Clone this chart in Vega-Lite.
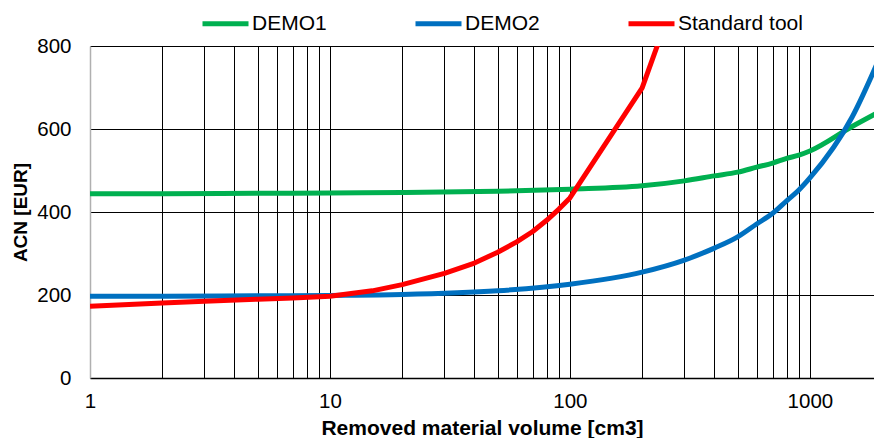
{
  "$schema": "https://vega.github.io/schema/vega-lite/v6.json",
  "width": 784,
  "height": 332,
  "autosize": {"type": "none"},
  "padding": {"left": 90, "top": 46, "right": 0, "bottom": 60},
  "background": "white",
  "config": {"view": {"stroke": null}, "font": "Liberation Sans"},
  "data": {
    "values": [
      {"series": "DEMO1", "volume": 1, "acn": 444},
      {"series": "DEMO1", "volume": 2, "acn": 444},
      {"series": "DEMO1", "volume": 5, "acn": 445},
      {"series": "DEMO1", "volume": 10, "acn": 446},
      {"series": "DEMO1", "volume": 20, "acn": 447},
      {"series": "DEMO1", "volume": 50, "acn": 450},
      {"series": "DEMO1", "volume": 100, "acn": 455},
      {"series": "DEMO1", "volume": 200, "acn": 463},
      {"series": "DEMO1", "volume": 300, "acn": 475},
      {"series": "DEMO1", "volume": 400, "acn": 487},
      {"series": "DEMO1", "volume": 500, "acn": 496},
      {"series": "DEMO1", "volume": 600, "acn": 508},
      {"series": "DEMO1", "volume": 700, "acn": 518},
      {"series": "DEMO1", "volume": 800, "acn": 529},
      {"series": "DEMO1", "volume": 900, "acn": 537},
      {"series": "DEMO1", "volume": 1000, "acn": 547},
      {"series": "DEMO1", "volume": 1500, "acn": 606},
      {"series": "DEMO1", "volume": 2000, "acn": 645},
      {"series": "DEMO2", "volume": 1, "acn": 197},
      {"series": "DEMO2", "volume": 2, "acn": 197},
      {"series": "DEMO2", "volume": 5, "acn": 198},
      {"series": "DEMO2", "volume": 10, "acn": 199},
      {"series": "DEMO2", "volume": 20, "acn": 201},
      {"series": "DEMO2", "volume": 50, "acn": 210},
      {"series": "DEMO2", "volume": 100, "acn": 226},
      {"series": "DEMO2", "volume": 200, "acn": 255},
      {"series": "DEMO2", "volume": 300, "acn": 284},
      {"series": "DEMO2", "volume": 400, "acn": 313},
      {"series": "DEMO2", "volume": 500, "acn": 340},
      {"series": "DEMO2", "volume": 600, "acn": 371},
      {"series": "DEMO2", "volume": 700, "acn": 397},
      {"series": "DEMO2", "volume": 800, "acn": 427},
      {"series": "DEMO2", "volume": 900, "acn": 453},
      {"series": "DEMO2", "volume": 1000, "acn": 482},
      {"series": "DEMO2", "volume": 1500, "acn": 629},
      {"series": "DEMO2", "volume": 2000, "acn": 786},
      {"series": "Standard tool", "volume": 1, "acn": 173},
      {"series": "Standard tool", "volume": 2, "acn": 181},
      {"series": "Standard tool", "volume": 3, "acn": 185},
      {"series": "Standard tool", "volume": 5, "acn": 190},
      {"series": "Standard tool", "volume": 7, "acn": 193},
      {"series": "Standard tool", "volume": 10, "acn": 197},
      {"series": "Standard tool", "volume": 15, "acn": 210},
      {"series": "Standard tool", "volume": 20, "acn": 225},
      {"series": "Standard tool", "volume": 30, "acn": 252},
      {"series": "Standard tool", "volume": 40, "acn": 277},
      {"series": "Standard tool", "volume": 50, "acn": 303},
      {"series": "Standard tool", "volume": 60, "acn": 328},
      {"series": "Standard tool", "volume": 70, "acn": 353},
      {"series": "Standard tool", "volume": 80, "acn": 380},
      {"series": "Standard tool", "volume": 90, "acn": 407},
      {"series": "Standard tool", "volume": 100, "acn": 434},
      {"series": "Standard tool", "volume": 200, "acn": 699},
      {"series": "Standard tool", "volume": 300, "acn": 983}
    ]
  },
  "encoding": {
    "x": {
      "field": "volume",
      "type": "quantitative",
      "scale": {"type": "log", "domain": [1, 1850], "nice": false},
      "axis": {
        "values": [1,2,3,4,5,6,7,8,9,10,20,30,40,50,60,70,80,90,100,200,300,400,500,600,700,800,900,1000],
        "format": "d",
        "labelExpr": "datum.value == 1 || datum.value == 10 || datum.value == 100 || datum.value == 1000 ? datum.label : ''",
        "grid": true,
        "gridColor": {"condition": {"test": "datum.value == 1", "value": "#b0b0b0"}, "value": "black"},
        "gridWidth": 1,
        "gridOpacity": 1,
        "ticks": false,
        "domainColor": "black",
        "domainWidth": 1.5,
        "labelFont": "Liberation Sans",
        "labelFontSize": 20.5,
        "labelColor": "black",
        "labelPadding": 13,
        "labelFlush": false,
        "labelOverlap": false,
        "title": "Removed material volume [cm3]",
        "titleFont": "Liberation Sans",
        "titleFontSize": 21,
        "titleFontWeight": "bold",
        "titleColor": "black",
        "titlePadding": 6
      }
    },
    "y": {
      "field": "acn",
      "type": "quantitative",
      "scale": {"domain": [0, 800], "nice": false},
      "axis": {
        "values": [0, 200, 400, 600, 800],
        "grid": true,
        "gridColor": "black",
        "gridWidth": 1,
        "gridOpacity": 1,
        "ticks": false,
        "domainColor": "#b0b0b0",
        "domainWidth": 1.5,
        "labelFont": "Liberation Sans",
        "labelFontSize": 20.5,
        "labelColor": "black",
        "labelPadding": 19,
        "title": "ACN [EUR]",
        "titleFont": "Liberation Sans",
        "titleFontSize": 19,
        "titleFontWeight": "bold",
        "titleColor": "black",
        "titlePadding": 6
      }
    },
    "color": {
      "field": "series",
      "type": "nominal",
      "scale": {"domain": ["DEMO1", "DEMO2", "Standard tool"], "range": ["#00B050", "#0070C0", "#FF0000"]},
      "legend": {
        "orient": "none",
        "legendX": 110,
        "legendY": -48,
        "direction": "horizontal",
        "columns": 3,
        "gridAlign": "all",
        "columnPadding": 28,
        "title": null,
        "symbolType": "stroke",
        "symbolSize": 2116,
        "symbolStrokeWidth": 5,
        "labelFont": "Liberation Sans",
        "labelFontSize": 21,
        "labelColor": "black",
        "labelOffset": 1,
        "labelLimit": 300
      }
    }
  },
  "layer": [
    {
      "transform": [{"filter": "datum.series != 'Standard tool'"}],
      "mark": {"type": "line", "strokeWidth": 5, "clip": true, "interpolate": "monotone"}
    },
    {
      "transform": [{"filter": "datum.series == 'Standard tool'"}],
      "mark": {"type": "line", "strokeWidth": 5, "clip": true, "interpolate": "linear", "strokeJoin": "round"}
    }
  ]
}
